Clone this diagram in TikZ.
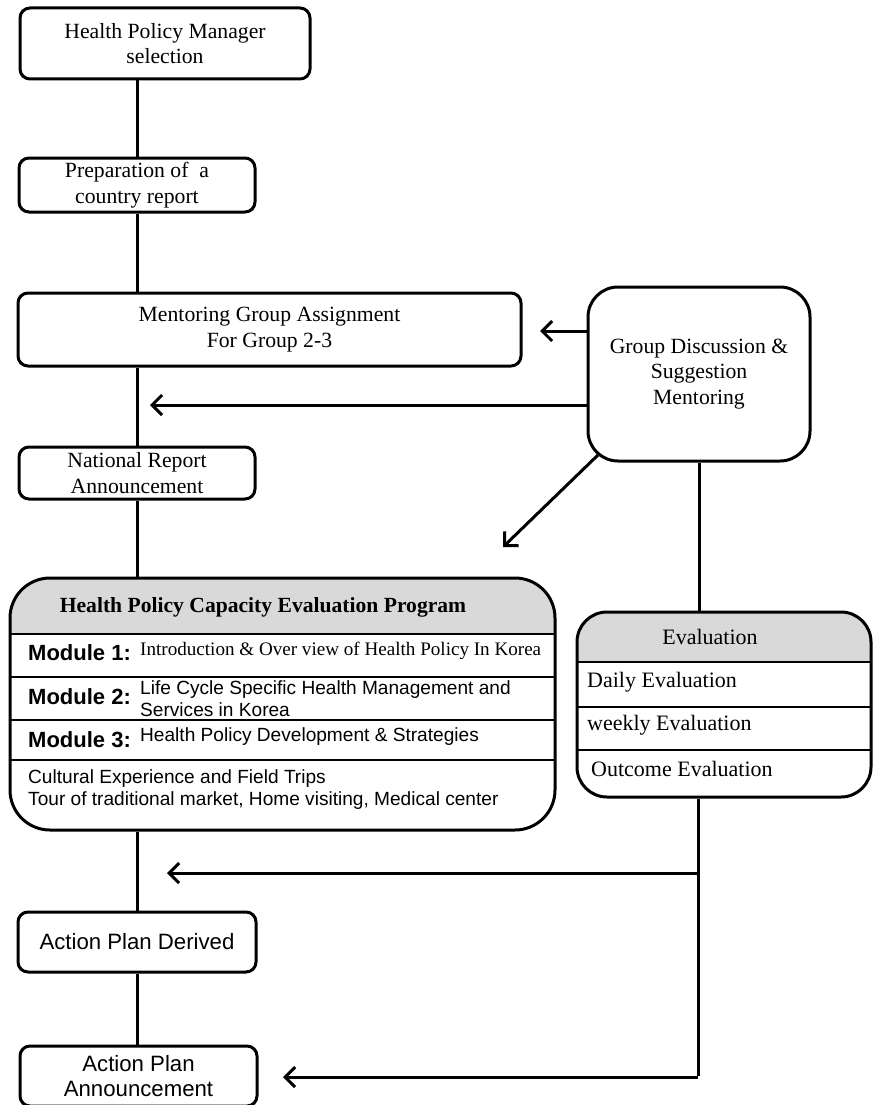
\documentclass[tikz,border=0pt]{standalone}
\usepackage{fontspec}
\setmainfont{Liberation Serif}
\setsansfont{Liberation Sans}
\usetikzlibrary{arrows.meta}
\definecolor{hdrgray}{HTML}{D9D9D9}
\begin{document}
\begin{tikzpicture}[x=1pt,y=-1pt,
  box/.style={draw, line width=3pt, rounded corners=10pt, inner sep=0pt, align=center},
  sertxt/.style={font=\fontsize{21.7}{25.5}\selectfont},
  santxt/.style={font=\sffamily\fontsize{22.2}{25.5}\selectfont},
  modlab/.style={font=\sffamily\bfseries\fontsize{22}{24}\selectfont, inner sep=0pt, anchor=west},
  modtxt/.style={font=\sffamily\fontsize{19.1}{22}\selectfont, inner sep=0pt, anchor=west, align=left},
  modser/.style={font=\fontsize{19.1}{22}\selectfont, inner sep=0pt, anchor=west},
  evtxt/.style={font=\fontsize{22}{24}\selectfont, inner sep=0pt, anchor=west},
  conn/.style={line width=3pt},
  arr/.style={line width=3pt, -{Straight Barb[length=10pt,width=20pt]}},
  sep/.style={line width=1.4pt}
]
\useasboundingbox (0,0) rectangle (873,1105);

% left column boxes
\node[box, sertxt, minimum width=290pt, minimum height=71pt] (b1) at (165,43.5) {Health Policy Manager\\selection};
\node[box, sertxt, minimum width=236pt, minimum height=54pt] (b2) at (137,185) {Preparation of~ a\\country report};
\node[box, sertxt, minimum width=503pt, minimum height=73pt] (b3) at (269.5,329.5) {Mentoring Group Assignment\\For Group 2-3};
\node[box, sertxt, minimum width=236pt, minimum height=52pt] (b4) at (137,473) {National Report\\Announcement};

% big program box
\begin{scope}
  \clip[rounded corners=40pt] (10,578) rectangle (555,830);
  \fill[hdrgray] (10,578) rectangle (555,634);
\end{scope}
\node[box, rounded corners=40pt, minimum width=545pt, minimum height=252pt] (big) at (282.5,704) {};
\draw[sep] (10,634) -- (555,634);
\draw[sep] (10,677) -- (555,677);
\draw[sep] (10,720) -- (555,720);
\draw[sep] (10,760) -- (555,760);
\node[font=\bfseries\fontsize{21.6}{24}\selectfont, inner sep=0pt] (hdr) at (263,607) {Health Policy Capacity Evaluation Program};
\node[modlab] (m1l) at (28,653) {Module 1:};
\node[modser] (m1t) at (140,651) {Introduction \& Over view of Health Policy In Korea};
\node[modlab] (m2l) at (28,697) {Module 2:};
\node[modtxt] (m2t) at (140,699) {Life Cycle Specific Health Management and\\Services in Korea};
\node[modlab] (m3l) at (28,740) {Module 3:};
\node[modtxt] (m3t) at (140,737) {Health Policy Development \& Strategies};
\node[modtxt] (cult) at (28,790) {Cultural Experience and Field Trips\\Tour of traditional market, Home visiting, Medical center};

% action plan boxes
\node[box, santxt, minimum width=238pt, minimum height=60pt] (apd) at (137,942) {Action Plan Derived};
\node[box, santxt, minimum width=237pt, minimum height=60pt] (apa) at (138.5,1076) {Action Plan\\Announcement};

% right side
\node[box, sertxt, rounded corners=30pt, minimum width=222pt, minimum height=174pt] (gd) at (699,374) {Group Discussion \&\\Suggestion\\Mentoring};

\begin{scope}
  \clip[rounded corners=30pt] (577,612) rectangle (871,797);
  \fill[hdrgray] (577,612) rectangle (871,662);
\end{scope}
\node[box, rounded corners=30pt, minimum width=294pt, minimum height=185pt] (ev) at (724,704.5) {};
\draw[sep] (577,662) -- (871,662);
\draw[sep] (577,707) -- (871,707);
\draw[sep] (577,750) -- (871,750);
\node[font=\fontsize{22}{24}\selectfont, inner sep=0pt] (evh) at (710,637) {Evaluation};
\node[evtxt] (ev1) at (587,682) {Daily Evaluation};
\node[evtxt] (ev2) at (587,725) {weekly Evaluation};
\node[evtxt] (ev3) at (591,769) {Outcome Evaluation};

% connectors
\draw[conn] (b2.north |- b1.south) -- (b2.north);
\draw[conn] (b2.south) -- (b2.south |- b3.north);
\draw[conn] (b3.south -| b4.north) -- (b4.north);
\draw[conn] (b4.south) -- (b4.south |- big.north);
\draw[conn] (apd.north |- big.south) -- (apd.north);
\draw[conn] (apd.south) -- (apd.south |- apa.north);

\coordinate (t1) at (540,331);
\coordinate (t2) at (150,405);
\coordinate (d0) at (598,455);
\coordinate (t3) at (503,547);
\draw[arr] (gd.west |- t1) -- (t1);
\draw[arr] (gd.west |- t2) -- (t2);
\draw[arr] (d0) -- (t3);
\draw[conn] (gd.south) -- (gd.south |- ev.north);

\coordinate (c1) at (698,873);
\coordinate (c2) at (698,1077);
\coordinate (t4) at (167,873);
\coordinate (t5) at (283,1077);
\draw[conn] (c2 |- ev.south) -- ([yshift=1.5pt]c2);
\draw[arr] (c1) -- (t4);
\draw[arr] (c2) -- (t5);
\end{tikzpicture}
\end{document}
